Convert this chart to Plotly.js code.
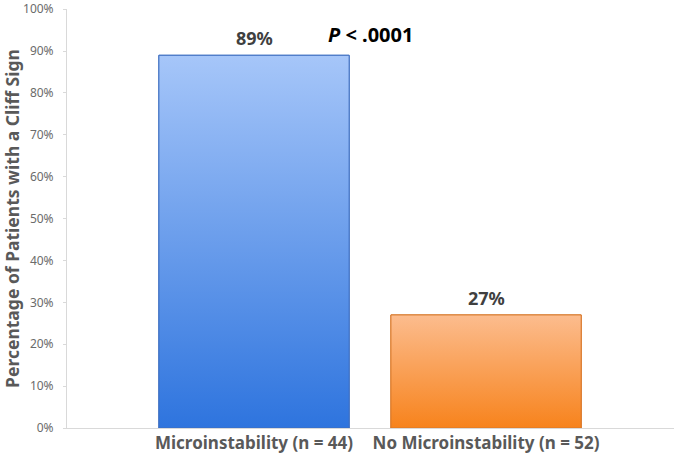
<!DOCTYPE html>
<html>
<head>
<meta charset="utf-8">
<script src="https://cdn.plot.ly/plotly-3.0.1.min.js"></script>
<style>html,body{margin:0;padding:0;background:#fff;}#chart{width:674px;height:460px;}</style>
</head>
<body>
<div id="chart"></div>
<script>
const categories = ['Microinstability (n = 44)', 'No Microinstability (n = 52)'];
const values = [0.89, 0.27];
const valueLabels = ['89%', '27%'];
const pLabel = '<i>P</i> < .0001';
const yTickVals = [0, 0.1, 0.2, 0.3, 0.4, 0.5, 0.6, 0.7, 0.8, 0.9, 1.0];
const yTickText = ['0%', '10%', '20%', '30%', '40%', '50%', '60%', '70%', '80%', '90%', '100%'];

const barWidth = 0.82;
const topColors = ['#a6c6f9', '#fcbc8e'];
const bottomColors = ['#2e74de', '#f7831c'];
const edgeColors = ['#3f6fc0', '#d8782a'];
const FONT = 'Noto Sans, Open Sans, sans-serif';

const idx = categories.map((c, i) => i);
const traces = [];
traces.push({
  type: 'bar', x: idx, y: values, width: barWidth,
  marker: {color: bottomColors, line: {color: edgeColors, width: 1}},
  hoverinfo: 'skip', showlegend: false
});
idx.forEach(i => {
  const x0 = i - barWidth / 2, x1 = i + barWidth / 2;
  traces.push({
    type: 'scatter', mode: 'lines',
    x: [x0, x1, x1, x0, x0], y: [0, 0, values[i], values[i], 0],
    fill: 'toself',
    fillgradient: {type: 'vertical', colorscale: [[0, bottomColors[i]], [1, topColors[i]]]},
    line: {color: edgeColors[i], width: 1},
    hoverinfo: 'skip', showlegend: false
  });
});

const annotations = idx.map(i => ({
  x: i, y: values[i], xref: 'x', yref: 'y', text: '<b>' + valueLabels[i] + '</b>',
  showarrow: false, yanchor: 'bottom', yshift: 3,
  font: {family: FONT, size: 18, color: '#404040'}
}));
annotations.push({
  x: 0.5, y: 0.94, xref: 'x', yref: 'y', text: '<b>' + pLabel + '</b>',
  showarrow: false, font: {family: FONT, size: 20, color: '#000'}
});

const layout = {
  width: 674, height: 460,
  margin: {l: 67, r: 0, t: 9, b: 32},
  paper_bgcolor: '#fff', plot_bgcolor: '#fff',
  showlegend: false,
  xaxis: {
    range: [-0.806, 1.81], tickvals: idx, ticktext: categories.map(c => '<b>' + c + '</b>'),
    showgrid: false, zeroline: false, showline: true, linecolor: '#d9d9d9', linewidth: 1,
    ticks: '', tickfont: {family: FONT, size: 17, color: '#595959'}, fixedrange: true,
    ticklabeloverflow: 'allow'
  },
  yaxis: {
    range: [0, 1.0005], tickvals: yTickVals, ticktext: yTickText,
    showgrid: false, zeroline: false, showline: true, linecolor: '#d9d9d9', linewidth: 1,
    ticks: 'outside', ticklen: 3, tickcolor: '#d9d9d9', ticklabelstandoff: 7,
    ticklabeloverflow: 'allow',
    tickfont: {family: FONT, size: 12, color: '#6b6b6b'},
    title: {text: '<b>Percentage of Patients with a Cliff Sign</b>', standoff: 4,
            font: {family: FONT, size: 17.5, color: '#595959'}}
  },
  annotations: annotations
};

Plotly.newPlot('chart', traces, layout, {displayModeBar: false, staticPlot: true});
</script>
</body>
</html>
